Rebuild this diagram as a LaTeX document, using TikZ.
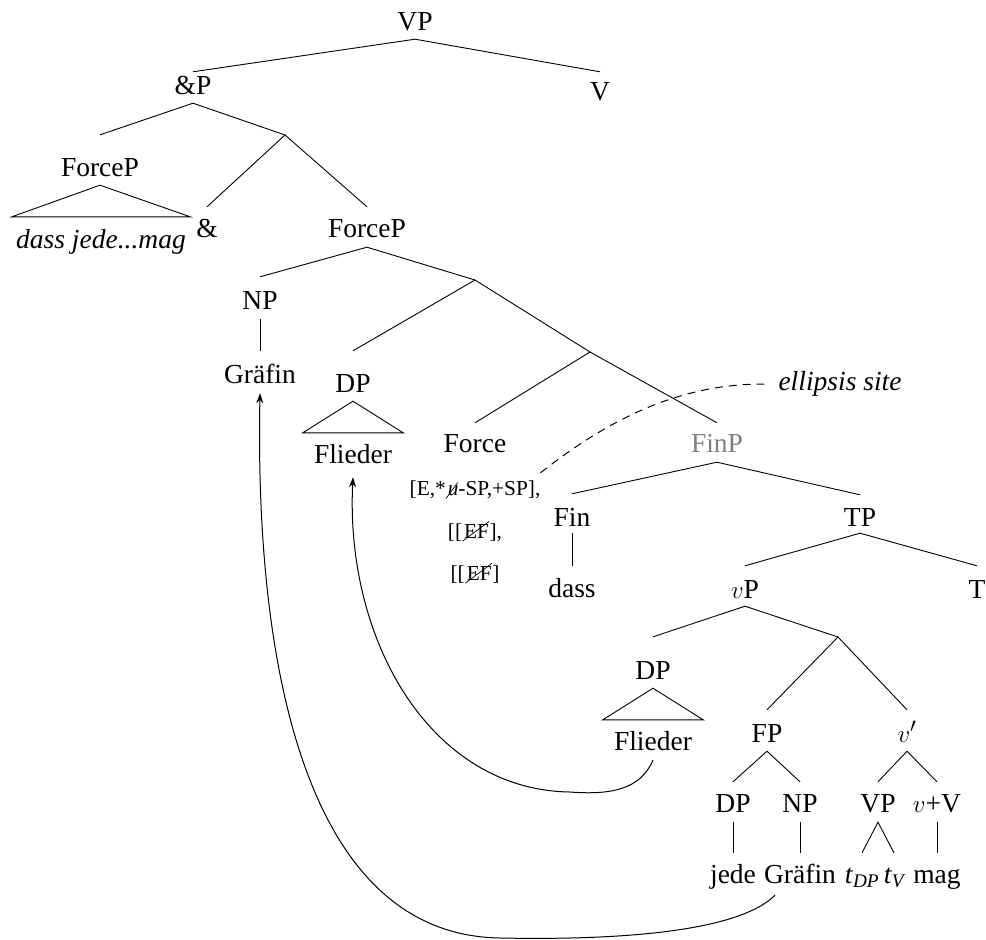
\documentclass[tikz,border=0pt]{standalone}
\usepackage{fontspec}
\setmainfont{Liberation Serif}
\usetikzlibrary{arrows.meta}

% a feature crossed out by one rising stroke
\newcommand{\struck}[2][0pt]{\tikz[baseline=(s.base)]{%
  \node[inner sep=0pt, anchor=base] (s) at (0,0) {#2};%
  \draw[line width=0.7pt] ([shift={(-1.5pt,-3pt)}]s.south west) -- ([shift={(#1,2.5pt)}]s.north east);}}

\tikzset{
  lab/.style={anchor=base, inner sep=0pt, font=\fontsize{27.5}{32}\selectfont},
  feat/.style={anchor=base, inner sep=0pt, font=\fontsize{21.3}{25}\selectfont},
  branch/.style={line width=0.9pt},
  move/.style={line width=1pt, -{Stealth[length=10pt,width=7pt]}},
  elide/.style={line width=1pt, dash pattern=on 8pt off 6pt},
  site/.style={text=black!50},
}

\begin{document}
\begin{tikzpicture}[x=1pt, y=-1pt]
\useasboundingbox (0,0) rectangle (986,940);

% labels (text height/depth set where branches meet them)
\node[lab, text height=10pt, text depth=9pt] (vp) at (415,30) {VP};
\node[lab, text height=22pt, text depth=9pt] (andp) at (193,94) {\&P};
\node[lab, text height=28pt, text depth=3pt] (v) at (600,100) {V};
\node[lab, text height=41pt, text depth=9pt] (forcep1) at (100,176) {ForceP};
\node[lab, text height=31pt, text depth=7pt, minimum width=178pt, font=\fontsize{27.5}{32}\selectfont\itshape] (djm) at (101,248) {dass jede...mag};
\node[lab, text height=30pt, text depth=3pt] (amp) at (207,237) {\&};
\node[lab, text height=30pt, text depth=10pt] (fp2) at (367,237) {ForceP};
\node[lab, text height=32pt, text depth=10pt] (np1) at (260,309) {NP};
\node[lab, text height=32pt, text depth=10pt] (gr1) at (260,383) {Gräfin};
\node[lab, text height=41pt, text depth=9pt] (dp1) at (353,392) {DP};
\node[lab, text height=30pt, text depth=14pt, minimum width=100pt] (fl1) at (353,463) {Flieder};
\node[lab, text height=29pt, text depth=5pt] (force) at (475,452) {Force};
\node[feat, text height=22pt, text depth=5pt] (feat1) at (475,495) {[E,*\struck[-1pt]{\textit{u}}-SP,+SP],};
\node[feat, text height=15pt, text depth=5pt] (feat2) at (475,538) {[[\struck{EF}],};
\node[feat, text height=15pt, text depth=5pt] (feat3) at (475,580) {[[\struck{EF}]};
\node[lab, site, text height=29pt, text depth=10pt] (finp) at (717,452) {FinP};
\node[lab, text height=32pt, text depth=7pt] (fin) at (572,526) {Fin};
\node[lab, text height=31pt, text depth=3pt] (dass) at (572,597) {dass};
\node[lab, text height=31pt, text depth=7pt] (tp) at (860,526) {TP};
\node[lab, text height=32pt, text depth=8pt] (vP) at (745,598) {$v$P};
\node[lab, text height=32pt, text depth=3pt] (t) at (977,598) {T};
\node[lab, text height=42pt, text depth=9pt] (dp2) at (653,679) {DP};
\node[lab, text height=30pt, text depth=10pt, minimum width=100pt] (fl2) at (653,750) {Flieder};
\node[lab, text height=32pt, text depth=9pt] (fp) at (767,742) {FP};
\node[lab, text height=32pt, text depth=9pt] (vbar) at (907,742) {$v'$};
\node[lab, text height=30pt, text depth=10pt] (dp3) at (733,812) {DP};
\node[lab, text height=30pt, text depth=10pt] (np3) at (800,812) {NP};
\node[lab, text height=30pt, text depth=10pt] (vp3) at (878,812) {VP};
\node[lab, text height=30pt, text depth=10pt] (vv) at (937,812) {$v$+V};
\node[lab, text height=30pt, text depth=5pt] (jede) at (733,883) {jede};
\node[lab, text height=30pt, text depth=12pt] (gr3) at (800,883) {Gräfin};
\node[lab, text height=30pt, text depth=5pt] (tdp) at (862,883) {\textit{t}\textsubscript{\itshape DP}};
\node[lab, text height=30pt, text depth=5pt] (tv) at (894,883) {\textit{t}\textsubscript{\itshape V}};
\node[lab, text height=30pt, text depth=5pt] (mag) at (937,883) {mag};
\node[lab, text height=12pt, text depth=0pt, inner xsep=14pt, font=\fontsize{27.5}{32}\selectfont\itshape] (el) at (840,390) {ellipsis site};

% unlabelled branching points
\coordinate (c1) at (285,135);
\coordinate (c2) at (475,280);
\coordinate (c3) at (590,352);
\coordinate (c4) at (838,637);

% branches
\begin{scope}[branch]
  \draw (andp.north) -- (vp.south) -- (v.north);
  \draw (forcep1.north) -- (andp.south) -- (c1);
  \draw (amp.north) -- (c1) -- (fp2.north);
  \draw (forcep1.south) -- (djm.north east) -- (djm.north west) -- cycle;
  \draw (np1.north) -- (fp2.south) -- (c2);
  \draw (np1.south) -- (gr1.north);
  \draw (dp1.north) -- (c2) -- (c3);
  \draw (dp1.south) -- (fl1.north east) -- (fl1.north west) -- cycle;
  \draw (force.north) -- (c3) -- (finp.north);
  \draw (fin.north) -- (finp.south) -- (tp.north);
  \draw (fin.south) -- (dass.north);
  \draw (vP.north) -- (tp.south) -- (t.north);
  \draw (dp2.north) -- (vP.south) -- (c4);
  \draw (dp2.south) -- (fl2.north east) -- (fl2.north west) -- cycle;
  \draw (fp.north) -- (c4) -- (vbar.north);
  \draw (dp3.north) -- (fp.south) -- (np3.north);
  \draw (vp3.north) -- (vbar.south) -- (vv.north);
  \draw (dp3.south) -- (jede.north);
  \draw (np3.south) -- (gr3.north);
  \draw (tdp.north) -- (vp3.south) -- (tv.north);
  \draw (vv.south) -- (mag.north);
\end{scope}

% movement arrows
\draw[move] ([xshift=-25pt]gr3.south) .. controls (735,935) and (600,940) .. (500,938)
  .. controls (300,935) and (255,650) .. (gr1.south);
\draw[move] (fl2.south) .. controls (640,790) and (610,795) .. (570,792)
  .. controls (430,790) and (345,640) .. (fl1.south);

% ellipsis marker
\draw[elide] (feat1.north east) .. controls (620,410) and (690,384) .. (el.west);

\end{tikzpicture}
\end{document}
